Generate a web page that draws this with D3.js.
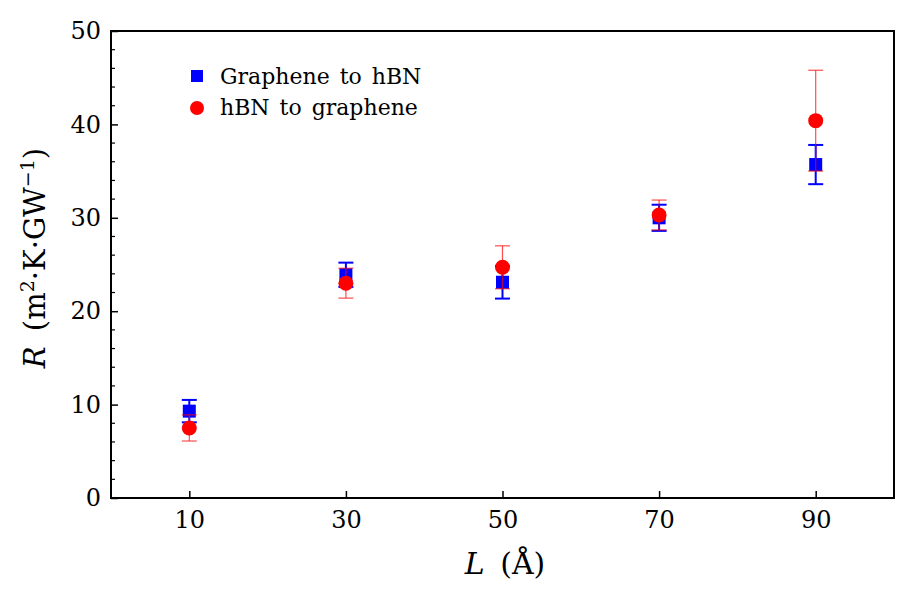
<!DOCTYPE html>
<html>
<head>
<meta charset="utf-8">
<script src="https://cdn.jsdelivr.net/npm/d3@7"></script>
<style>
  body { margin: 0; background: #fff; }
  svg { display: block; }
  text { font-family: "DejaVu Serif", "Liberation Serif", serif; fill: #000; }
</style>
</head>
<body>
<svg id="chart" width="905" height="589"></svg>
<script>
// datos
const lengths = [10, 30, 50, 70, 90];
const gToH = [9.3, 23.9, 23.1, 30.0, 35.7];       // Graphene to hBN
const gToHErr = [1.2, 1.3, 1.75, 1.4, 2.1];
const hToG = [7.5, 23.0, 24.7, 30.3, 40.4];       // hBN to graphene
const hToGErr = [1.4, 1.6, 2.3, 1.6, 5.4];
const xTicks = [10, 30, 50, 70, 90];
const yTicks = [0, 10, 20, 30, 40, 50];
const yMinor = d3.range(0, 51, 2).filter(v => v % 10 !== 0);

const svg = d3.select('#chart');
const margin = { top: 31, right: 11, bottom: 91, left: 111 };
const width = 905 - margin.left - margin.right;
const height = 589 - margin.top - margin.bottom;

const g = svg.append('g')
  .attr('transform', `translate(${margin.left},${margin.top})`);

const x = d3.scaleLinear().domain([0, 100]).range([0, width]);
const y = d3.scaleLinear().domain([0, 50]).range([height, 0]);

// eje X (ticks hacia dentro)
const xAxis = g.append('g')
  .attr('transform', `translate(0,${height})`)
  .call(d3.axisBottom(x).tickValues(xTicks).tickSizeInner(-7).tickSizeOuter(0).tickPadding(13));
xAxis.select('.domain').remove();
xAxis.selectAll('line').attr('stroke-width', 1.5);
xAxis.selectAll('text').style('font-size', '24px');

// eje Y
const yAxis = g.append('g')
  .call(d3.axisLeft(y).tickValues(yTicks).tickSizeInner(-7).tickSizeOuter(0).tickPadding(10));
yAxis.select('.domain').remove();
yAxis.selectAll('line').attr('stroke-width', 1.5);
yAxis.selectAll('text').style('font-size', '24px');

g.append('g')
  .selectAll('line')
  .data(yMinor)
  .enter().append('line')
  .attr('x1', 0).attr('x2', 4)
  .attr('y1', d => y(d)).attr('y2', d => y(d))
  .attr('stroke', '#000').attr('stroke-width', 1.2);

// series
function drawSeries(vals, errs, color, opts) {
  const s = g.append('g');
  const cap = 7.5;
  vals.forEach((v, i) => {
    const cx = x(lengths[i]);
    const eg = s.append('g')
      .attr('stroke', color)
      .attr('stroke-width', opts.lw)
      .attr('stroke-opacity', opts.alpha);
    eg.append('line').attr('x1', cx).attr('x2', cx)
      .attr('y1', y(v - errs[i])).attr('y2', y(v + errs[i]));
    eg.append('line').attr('x1', cx - cap).attr('x2', cx + cap)
      .attr('y1', y(v - errs[i])).attr('y2', y(v - errs[i]));
    eg.append('line').attr('x1', cx - cap).attr('x2', cx + cap)
      .attr('y1', y(v + errs[i])).attr('y2', y(v + errs[i]));
  });
  if (opts.shape === 'square') {
    s.selectAll('rect.m').data(vals).enter().append('rect')
      .attr('x', (d, i) => x(lengths[i]) - 6.5)
      .attr('y', d => y(d) - 6.5)
      .attr('width', 13).attr('height', 13)
      .attr('fill', color);
  } else {
    s.selectAll('circle.m').data(vals).enter().append('circle')
      .attr('cx', (d, i) => x(lengths[i]))
      .attr('cy', d => y(d))
      .attr('r', 7.5)
      .attr('fill', color);
  }
}

drawSeries(gToH, gToHErr, '#0000ff', { lw: 2, alpha: 1, shape: 'square' });
drawSeries(hToG, hToGErr, '#ff0000', { lw: 1.2, alpha: 0.7, shape: 'circle' });

// marco
g.append('rect')
  .attr('width', width).attr('height', height)
  .attr('fill', 'none').attr('stroke', '#000').attr('stroke-width', 2);

// leyenda
const legend = g.append('g').style('word-spacing', '3px');
legend.append('rect').attr('x', 80).attr('y', 39).attr('width', 12).attr('height', 12).attr('fill', '#0000ff');
legend.append('text').attr('x', 109).attr('y', 53).style('font-size', '22px').text('Graphene to hBN');
legend.append('circle').attr('cx', 86).attr('cy', 77).attr('r', 7).attr('fill', '#ff0000');
legend.append('text').attr('x', 109).attr('y', 84).style('font-size', '22px').text('hBN to graphene');

// etiquetas de los ejes
svg.append('text')
  .attr('x', 505).attr('y', 574)
  .attr('text-anchor', 'middle')
  .style('font-size', '30px')
  .style('word-spacing', '6px')
  .html('<tspan font-style="italic">L</tspan> (Å)');

svg.append('text')
  .attr('transform', 'translate(45,258) rotate(-90)')
  .attr('text-anchor', 'middle')
  .style('font-size', '29px')
  .style('word-spacing', '6px')
  .html('<tspan font-style="italic">R</tspan> (m<tspan baseline-shift="super" font-size="19px">2</tspan>·K·GW<tspan baseline-shift="super" font-size="19px">−1</tspan>)');
</script>
</body>
</html>
